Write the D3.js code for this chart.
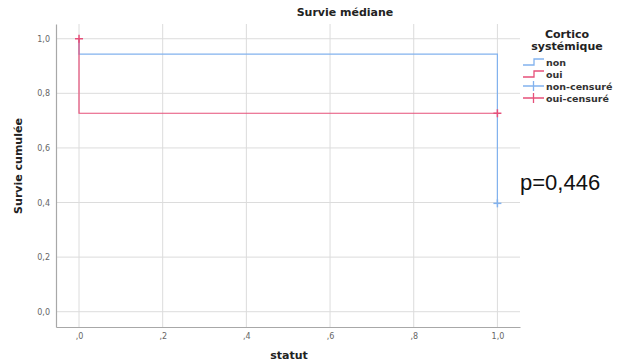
<!DOCTYPE html>
<html>
<head>
<meta charset="utf-8">
<script src="https://cdn.jsdelivr.net/npm/d3@7"></script>
<style>
  body { margin: 0; background: #fff; }
  svg { display: block; font-family: "DejaVu Sans", sans-serif; }
</style>
</head>
<body>
<div id="chart"></div>
<script>
// step points: [time, cumulative survival]
const nonSteps = [[0, 1.0], [0, 0.944], [1.0, 0.397]];
const ouiSteps = [[0, 1.0], [0, 0.727], [1.0, 0.727]];
const nonCensored = [[1.0, 0.397]];
const ouiCensored = [[0, 1.0], [1.0, 0.727]];
const xTicks = [0, 0.2, 0.4, 0.6, 0.8, 1.0];
const yTicks = [0, 0.2, 0.4, 0.6, 0.8, 1.0];
const legendLabels = ["non", "oui", "non-censuré", "oui-censuré"];

const W = 623, H = 364;
const blue = "#82b2ee", red = "#e6507a";

const svg = d3.select("#chart").append("svg")
  .attr("width", W).attr("height", H);

const plot = { left: 56, right: 520, top: 24, bottom: 327 };
const x = d3.scaleLinear().domain([-0.055, 1.054]).range([plot.left, plot.right]);
const y = d3.scaleLinear().domain([-0.056, 1.054]).range([plot.bottom, plot.top]);

// grid
svg.append("g").selectAll("line").data(yTicks).enter().append("line")
  .attr("x1", plot.left).attr("x2", plot.right)
  .attr("y1", d => y(d)).attr("y2", d => y(d))
  .attr("stroke", "#dcdcdc").attr("stroke-width", 1);
svg.append("g").selectAll("line").data(xTicks).enter().append("line")
  .attr("x1", d => x(d)).attr("x2", d => x(d))
  .attr("y1", plot.top).attr("y2", plot.bottom)
  .attr("stroke", "#dcdcdc").attr("stroke-width", 1);

// axes
const fmtY = d => d3.format(".1f")(d).replace(".", ",");
const fmtX = d => d === 1 ? "1,0" : d3.format(".1f")(d).replace("0.", ",");

const ya = svg.append("g").attr("transform", `translate(${plot.left},0)`)
  .call(d3.axisLeft(y).tickValues(yTicks).tickFormat(fmtY).tickSize(0).tickPadding(6));
const xa = svg.append("g").attr("transform", `translate(0,${plot.bottom})`)
  .call(d3.axisBottom(x).tickValues(xTicks).tickFormat(fmtX).tickSize(0).tickPadding(6));
[ya, xa].forEach(a => {
  a.select(".domain").attr("stroke", "#a8a8a8").attr("stroke-width", 1.2);
  a.selectAll("text").attr("fill", "#666").attr("font-size", 8).attr("font-family", "DejaVu Sans");
});

// curves
const line = d3.line().x(d => x(d[0])).y(d => y(d[1])).curve(d3.curveStepAfter);
svg.append("path").datum(nonSteps).attr("d", line)
  .attr("fill", "none").attr("stroke", blue).attr("stroke-width", 1.2);
svg.append("path").datum(ouiSteps).attr("d", line)
  .attr("fill", "none").attr("stroke", red).attr("stroke-width", 1.2);

function cross(data, color) {
  const g = svg.append("g").selectAll("g").data(data).enter().append("g")
    .attr("transform", d => `translate(${x(d[0])},${y(d[1])})`);
  g.append("line").attr("x1", -4).attr("x2", 4).attr("stroke", color).attr("stroke-width", 1.5);
  g.append("line").attr("y1", -4).attr("y2", 4).attr("stroke", color).attr("stroke-width", 1.5);
}
cross(nonCensored, blue);
cross(ouiCensored, red);

// titles
svg.append("text").attr("x", 345).attr("y", 16).attr("text-anchor", "middle")
  .attr("font-size", 11).attr("font-weight", "bold").attr("fill", "#222").text("Survie médiane");
svg.append("text").attr("x", 289).attr("y", 359).attr("text-anchor", "middle")
  .attr("font-size", 11).attr("font-weight", "bold").attr("fill", "#222").text("statut");
svg.append("text").attr("transform", "translate(22,166) rotate(-90)").attr("text-anchor", "middle")
  .attr("font-size", 11).attr("font-weight", "bold").attr("fill", "#222").text("Survie cumulée");

// legend
svg.append("text").attr("x", 567).attr("y", 38).attr("text-anchor", "middle")
  .attr("font-size", 11).attr("font-weight", "bold").attr("fill", "#222").text("Cortico");
svg.append("text").attr("x", 567).attr("y", 50).attr("text-anchor", "middle")
  .attr("font-size", 11).attr("font-weight", "bold").attr("fill", "#222").text("systémique");

const lg = svg.append("g").selectAll("g").data(legendLabels).enter().append("g")
  .attr("transform", (d, i) => `translate(523,${62 + i * 12})`);
lg.append("path")
  .attr("d", (d, i) => i < 2 ? "M0,3H11V-3H21" : "M0,0H21M10.5,-5V5")
  .attr("fill", "none")
  .attr("stroke", (d, i) => i % 2 === 0 ? blue : red)
  .attr("stroke-width", 1.3);
lg.append("text").attr("x", 23).attr("y", 3.5)
  .attr("font-size", 9.5).attr("font-weight", "bold").attr("fill", "#333").text(d => d);

svg.append("text").attr("x", 520).attr("y", 190)
  .attr("font-family", "Liberation Sans").attr("font-size", 22).attr("fill", "#111").text("p=0,446");
</script>
</body>
</html>
